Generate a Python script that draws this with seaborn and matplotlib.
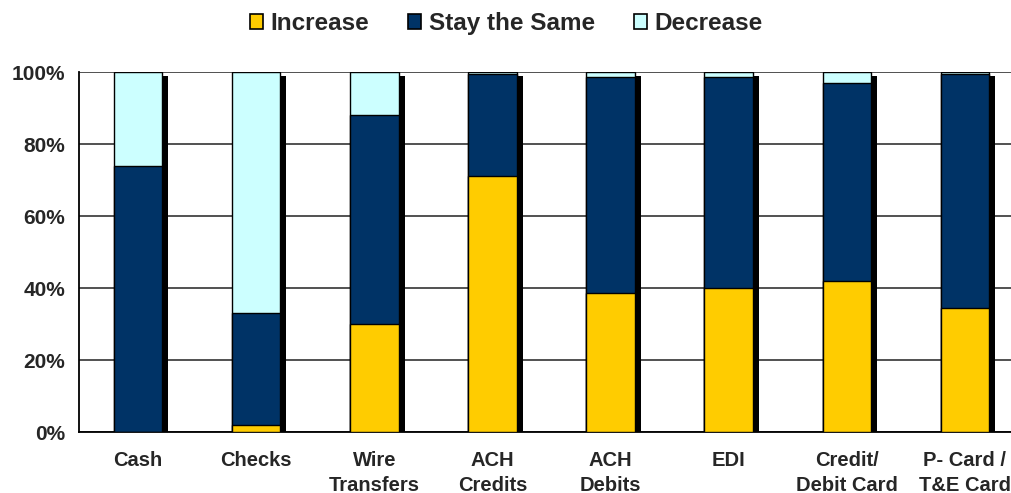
import matplotlib
matplotlib.use("Agg")
import matplotlib.pyplot as plt
import matplotlib.transforms as mtransforms
from matplotlib.patches import Patch
from matplotlib.ticker import FixedLocator, PercentFormatter
import numpy as np
import pandas as pd
import seaborn as sns

categories = ["Cash", "Checks", "Wire\nTransfers", "ACH\nCredits", "ACH\nDebits",
              "EDI", "Credit/\nDebit Card", "P- Card /\nT&E Card"]
increase = [0.0, 2.0, 30.0, 71.0, 38.5, 40.0, 42.0, 34.5]
stay_same = [74.0, 31.0, 58.0, 28.5, 60.0, 58.5, 55.0, 65.0]
decrease = [26.0, 67.0, 12.0, 0.5, 1.5, 1.5, 3.0, 0.5]

series_names = ["Increase", "Stay the Same", "Decrease"]
series_colors = ["#FFCC00", "#003366", "#CCFFFF"]

sns.set_theme(style="white")
plt.rcParams["font.family"] = ["Liberation Sans", "DejaVu Sans"]
plt.rcParams["font.weight"] = "bold"

inc = np.array(increase) / 100
stay = np.array(stay_same) / 100
dec = np.array(decrease) / 100

df = pd.DataFrame({
    "category": categories,
    "inc": inc,
    "inc_stay": inc + stay,
    "total": inc + stay + dec,
})

fig = plt.figure(figsize=(10.12, 4.93), dpi=100)
ax = fig.add_axes([79 / 1012, 61 / 493, 945 / 1012, 360 / 493])

bar_width = 0.41

# drop shadow behind each stacked column
sns.barplot(data=df, x="category", y="total", color="black", width=bar_width,
            saturation=1, ax=ax, zorder=2, linewidth=0)
shadow_shift = mtransforms.ScaledTranslation(6 / 100, -4 / 100, fig.dpi_scale_trans)
for p in ax.patches:
    p.set_transform(ax.transData + shadow_shift)

# stacked segments, drawn as cumulative layers from the top down
layers = [("total", series_colors[2]), ("inc_stay", series_colors[1]), ("inc", series_colors[0])]
for i, (col, colr) in enumerate(layers):
    sns.barplot(data=df, x="category", y=col, color=colr, width=bar_width,
                saturation=1, ax=ax, zorder=3 + i, edgecolor="black", linewidth=1.0)

ax.set_xlim(-0.5, len(categories) - 0.5)
ax.set_ylim(0, 1.0)
ax.set_xlabel("")
ax.set_ylabel("")

ax.yaxis.set_major_locator(FixedLocator(np.linspace(0, 1, 6)))
ax.yaxis.set_major_formatter(PercentFormatter(1.0, decimals=0))
ax.grid(axis="y", color="#222222", linewidth=1.1, zorder=0)
ax.set_axisbelow(True)

ax.xaxis.set_minor_locator(FixedLocator(np.arange(-0.5, len(categories), 1.0)))
ax.tick_params(axis="x", which="major", length=0, pad=14, labelsize=14.5)
ax.tick_params(axis="x", which="minor", length=6, width=1.1, color="black", direction="out")
ax.tick_params(axis="y", which="major", length=6, width=1.1, color="black", direction="out",
               labelsize=15, pad=4)
for lab in ax.get_xticklabels():
    lab.set_fontweight("bold")
    lab.set_linespacing(1.35)
for lab in ax.get_yticklabels():
    lab.set_fontweight("bold")

for side in ["top", "right"]:
    ax.spines[side].set_visible(False)
for side in ["left", "bottom"]:
    ax.spines[side].set_color("black")
    ax.spines[side].set_linewidth(1.3)

handles = [Patch(facecolor=c, edgecolor="black", linewidth=1.2) for c in series_colors]
fig.legend(handles, series_names, loc="upper center", bbox_to_anchor=(0.5, 1.02),
           ncol=3, frameon=False, handlelength=0.55, handleheight=0.55, handletextpad=0.3,
           columnspacing=1.6, prop={"weight": "bold", "size": 17.5})

fig.savefig("out.png", dpi=100)
